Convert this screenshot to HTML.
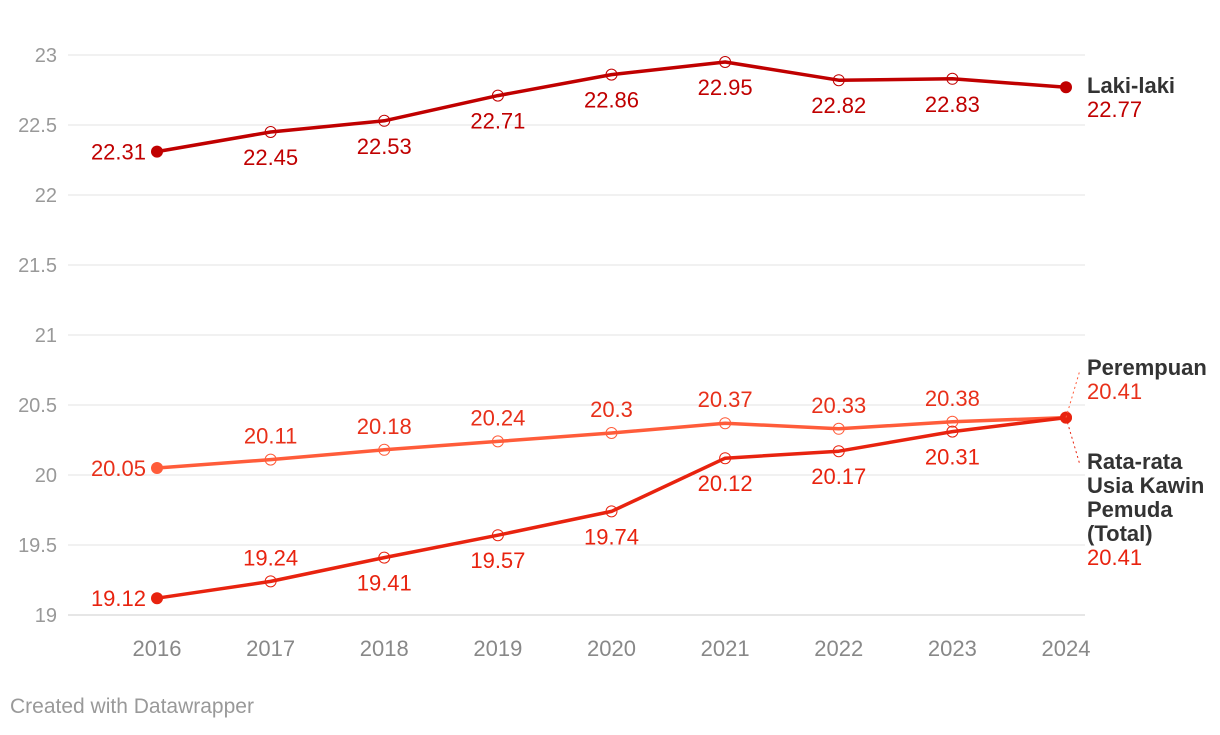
<!DOCTYPE html>
<html><head><meta charset="utf-8"><style>
body{margin:0;background:#fff;font-family:"Liberation Sans",Arial,sans-serif;}
svg text{font-family:"Liberation Sans",Arial,sans-serif;}
</style></head><body>
<svg id="chart" width="1220" height="730" xmlns="http://www.w3.org/2000/svg">
<g id="grid"></g>
<g id="series"></g>
<g id="labels"></g>
<text x="10" y="713" font-size="21" fill="#999">Created with Datawrapper</text>
</svg>
<script>
const years=[2016,2017,2018,2019,2020,2021,2022,2023,2024];
const yTicks=[19,19.5,20,20.5,21,21.5,22,22.5,23];
const laki=[22.31,22.45,22.53,22.71,22.86,22.95,22.82,22.83,22.77];
const perempuan=[20.05,20.11,20.18,20.24,20.3,20.37,20.33,20.38,20.41];
const total=[19.12,19.24,19.41,19.57,19.74,20.12,20.17,20.31,20.41];
const NS="http://www.w3.org/2000/svg";
const x=i=>157+i*(1066-157)/(years.length-1);
const y=v=>615-(v-19)*140;
function mk(tag,attrs,parent,text){const e=document.createElementNS(NS,tag);for(const k in attrs)e.setAttribute(k,attrs[k]);if(text!==undefined)e.textContent=text;parent.appendChild(e);return e;}
const grid=document.getElementById('grid'),ser=document.getElementById('series'),lab=document.getElementById('labels');
yTicks.forEach(t=>{
 const l=mk('line',{x1:68,x2:1085,y1:y(t),y2:y(t),stroke:t===19?'#ccc':'#e3e3e3','stroke-width':1},grid);
 
 
 const tx=mk('text',{x:57,y:y(t)+7,'text-anchor':'end','font-size':20,fill:'#999'},grid,String(t));
 
 
});
years.forEach((yr,i)=>{
 const tx=mk('text',{x:x(i),y:656,'text-anchor':'middle','font-size':22,fill:'#888'},grid,String(yr));
 
 
});
const lakiPos=[0,-1,-1,-1,-1,-1,-1,-1];
const perPos=[0,1,1,1,1,1,1,1];
const totPos=[0,1,-1,-1,-1,-1,-1,-1];
function drawSeries(vals,color,lcolor,pos,name){
 const p=mk('polyline',{points:vals.map((v,i)=>x(i)+','+y(v)).join(' '),fill:'none',stroke:color,'stroke-width':3.5,'stroke-linejoin':'round'},ser);
 
 
 vals.forEach((v,i)=>{
  const end=(i===0||i===vals.length-1);
  const c=mk('circle',{cx:x(i),cy:y(v),r:end?6:5.5,fill:end?color:'none',stroke:color,'stroke-width':end?0:1},ser);
  
  
  if(i===vals.length-1)return;
  let t;
  if(i===0){t=mk('text',{x:x(i)-11,y:y(v)+8,'text-anchor':'end','font-size':22,fill:lcolor},lab,String(v));}
  else{const dy=pos[i]===1?-16:33;t=mk('text',{x:x(i),y:y(v)+dy,'text-anchor':'middle','font-size':22,fill:lcolor},lab,String(v));}
  
  
 });
}
drawSeries(perempuan,'#ff5c3a','#e8301a',perPos,'perempuan');
drawSeries(total,'#e8230f','#e8230f',totPos,'total');
drawSeries(laki,'#c00000','#c00000',lakiPos,'laki-laki');
function endLabel(lines,val,top,color,name){
 lines.forEach((s,k)=>{const t=mk('text',{x:1087,y:top+k*24,'font-size':22,'font-weight':'bold',fill:'#333'},lab,s);
  
  });
 const t=mk('text',{x:1087,y:top+lines.length*24,'font-size':22,fill:color},lab,String(val));
 
 
}
endLabel(['Laki-laki'],laki[8],93,'#c00000','laki-laki');
endLabel(['Perempuan'],perempuan[8],375,'#e8301a','perempuan');
endLabel(['Rata-rata','Usia Kawin','Pemuda','(Total)'],total[8],469,'#e8230f','total');
const d1=mk('line',{x1:x(8),y1:y(perempuan[8]),x2:1080,y2:370,stroke:'#ff5c3a','stroke-dasharray':'2,3','stroke-width':1},lab);


const d2=mk('line',{x1:x(8),y1:y(total[8]),x2:1080,y2:465,stroke:'#e8230f','stroke-dasharray':'2,3','stroke-width':1},lab);


</script>
</body></html>
